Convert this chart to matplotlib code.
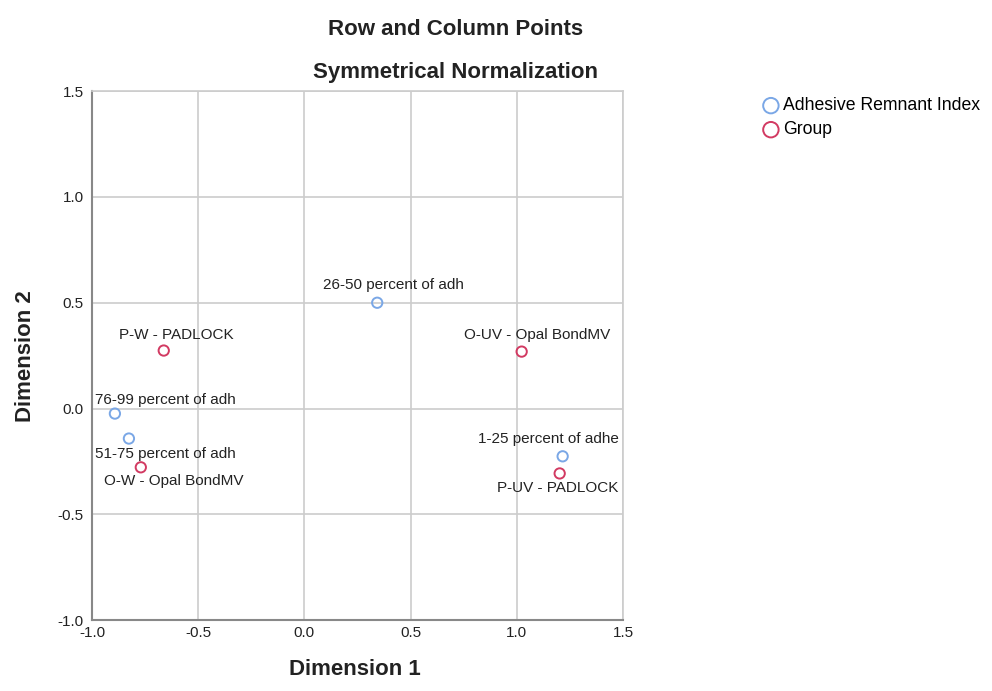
import matplotlib
matplotlib.use('Agg')
import matplotlib.pyplot as plt

# --- data ---
ari_labels = ['26-50 percent of adh', '76-99 percent of adh',
              '51-75 percent of adh', '1-25 percent of adhe']
ari_dim1 = [0.343, -0.892, -0.826, 1.216]
ari_dim2 = [0.50, -0.024, -0.142, -0.226]

group_labels = ['P-W - PADLOCK', 'O-UV - Opal BondMV',
                'O-W - Opal BondMV', 'P-UV - PADLOCK']
group_dim1 = [-0.662, 1.023, -0.770, 1.202]
group_dim2 = [0.274, 0.269, -0.278, -0.307]

ticks = [-1.0, -0.5, 0.0, 0.5, 1.0, 1.5]
tick_labels = ['-1.0', '-0.5', '0.0', '0.5', '1.0', '1.5']

# label offsets in points (layout only)
ari_offsets = [(11.5, 13), (36, 10), (26.6, -10.8), (-10, 12.2)]
group_offsets = [(9.4, 11.5), (10.8, 12), (23.8, -10), (-1.4, -10.8)]

BLUE = '#7aa7e6'
RED = '#d23a62'
TEXT = '#222222'

plt.rcParams['font.family'] = ['Liberation Sans', 'DejaVu Sans']

fig = plt.figure(figsize=(9.92, 6.91), dpi=100)
ax = fig.add_axes([0.0927, 0.1027, 0.5353, 0.7653])

ax.scatter(ari_dim1, ari_dim2, s=55, facecolors='none', edgecolors=BLUE,
           linewidths=1.4, label='Adhesive Remnant Index', zorder=3)
ax.scatter(group_dim1, group_dim2, s=55, facecolors='none', edgecolors=RED,
           linewidths=1.4, label='Group', zorder=3)

for lab, x, y, off in zip(ari_labels, ari_dim1, ari_dim2, ari_offsets):
    ax.annotate(lab, (x, y), xytext=off, textcoords='offset points',
                ha='center', va='center', fontsize=11, color=TEXT)
for lab, x, y, off in zip(group_labels, group_dim1, group_dim2, group_offsets):
    ax.annotate(lab, (x, y), xytext=off, textcoords='offset points',
                ha='center', va='center', fontsize=11, color=TEXT)

ax.set_xlim(-1.0, 1.5)
ax.set_ylim(-1.0, 1.5)
ax.set_xticks(ticks)
ax.set_xticklabels(tick_labels)
ax.set_yticks(ticks)
ax.set_yticklabels(tick_labels)
ax.tick_params(axis='y', length=0, labelsize=11, colors=TEXT, pad=6)
ax.tick_params(axis='x', length=0, labelsize=11, colors=TEXT, pad=4)
ax.grid(color='#cccccc', linewidth=1.2)
ax.set_axisbelow(True)

for side in ['top', 'right']:
    ax.spines[side].set_color('#cccccc')
    ax.spines[side].set_linewidth(1.2)
for side in ['left', 'bottom']:
    ax.spines[side].set_color('#888888')
    ax.spines[side].set_linewidth(1.5)

fig.text(0.026, 0.485, 'Dimension 2', rotation=90, ha='center', va='center',
         fontsize=16, fontweight='bold', color=TEXT)
fig.text(0.358, 0.016, 'Dimension 1', ha='center', va='bottom',
         fontsize=16, fontweight='bold', color=TEXT)

fig.text(0.459, 0.958, 'Row and Column Points', ha='center', va='center',
         fontsize=16, fontweight='bold', color=TEXT)
fig.text(0.459, 0.895, 'Symmetrical Normalization', ha='center', va='center',
         fontsize=16, fontweight='bold', color=TEXT)

leg = fig.legend(loc='upper left', bbox_to_anchor=(0.754, 0.872), frameon=False,
                 fontsize=12.7, handletextpad=-0.1, borderpad=0, labelspacing=0.4,
                 markerscale=1.5, handlelength=1.6)

fig.savefig('out.png', dpi=100)
